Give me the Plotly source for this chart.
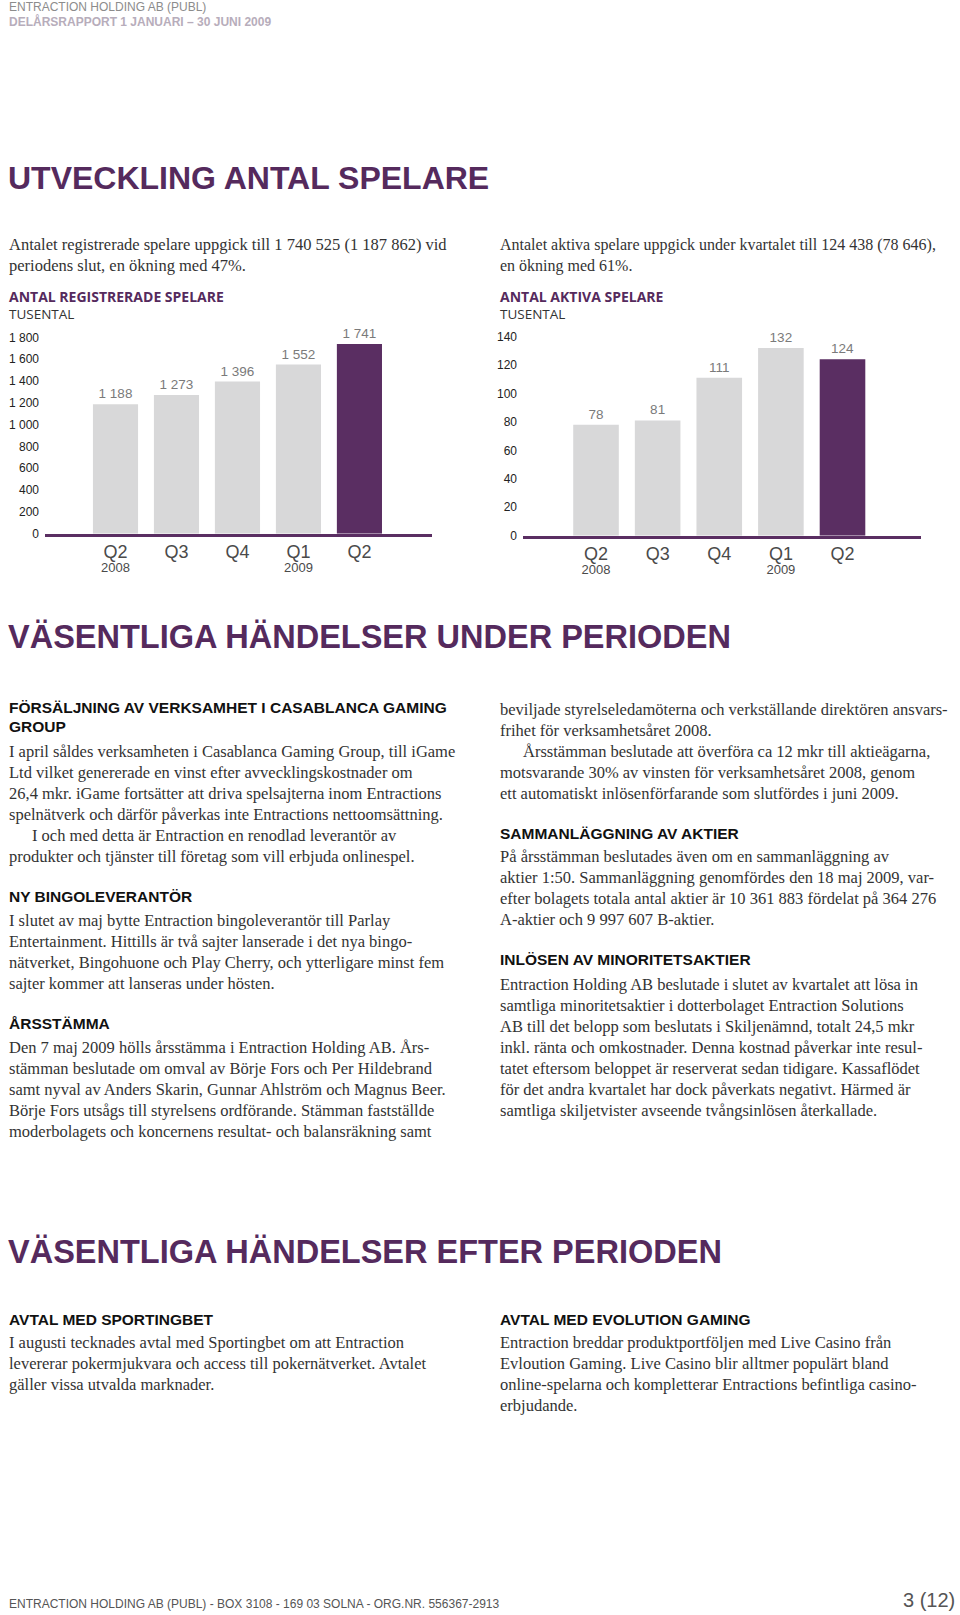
import plotly.graph_objects as go

W, H = 960, 1615

# chart data
quarters = ["Q2 2008", "Q3 2008", "Q4 2008", "Q1 2009", "Q2 2009"]
q_labels = ["Q2", "Q3", "Q4", "Q1", "Q2"]
year_ticks = ["Q2 2008", "Q1 2009"]
year_labels = ["2008", "2009"]
registered = [1188, 1273, 1396, 1552, 1741]
active = [78, 81, 111, 132, 124]
reg_ticks = [0, 200, 400, 600, 800, 1000, 1200, 1400, 1600, 1800]
act_ticks = [0, 20, 40, 60, 80, 100, 120, 140]

PURPLE = "#5a2e62"
TITLE = "#552a5d"
GRAY = "#d8d8d9"
SANS = "Liberation Sans"
SERIF = "Liberation Serif"
BODY = "#333333"

bar_colors = [GRAY] * 4 + [PURPLE]


def note(px, py, text, size, color=BODY, family=SERIF, xanchor="left"):
    # small drift correction so the visual line centres land where they sit in the scan
    py = py + 1 + 0.004 * py
    return dict(xref="paper", yref="paper", x=px / W, y=1 - py / H, text=text,
                showarrow=False, xanchor=xanchor, yanchor="middle", align="left",
                font=dict(size=size, color=color, family=family))


def block(x, y0, lines, step=21, size=16.5):
    out = []
    for i, ln in enumerate(lines):
        dx = 0
        if ln.startswith(">"):
            ln = ln[1:]
            dx = 23
        out.append(note(x + dx, y0 + i * step, ln, size))
    return out


fig = go.Figure()

fig.add_trace(go.Bar(x=quarters, y=registered, marker_color=bar_colors, marker_line_width=0,
                     texttemplate="%{y:,}", textposition="outside", cliponaxis=False,
                     textfont=dict(size=13.5, color="#7a7a7a", family=SANS),
                     xaxis="x", yaxis="y", showlegend=False))
fig.add_trace(go.Bar(x=quarters, y=active, marker_color=bar_colors, marker_line_width=0,
                     texttemplate="%{y:,}", textposition="outside", cliponaxis=False,
                     textfont=dict(size=13.5, color="#7a7a7a", family=SANS),
                     xaxis="x2", yaxis="y2", showlegend=False))
# empty traces so the year axes get drawn
fig.add_trace(go.Scatter(x=[], y=[], xaxis="x3", yaxis="y", showlegend=False))
fig.add_trace(go.Scatter(x=[], y=[], xaxis="x4", yaxis="y2", showlegend=False))

qfont = dict(size=18, color="#4a4a4a", family=SANS)
yfont = dict(size=13, color="#4a4a4a", family=SANS)
tfont = dict(size=12, color="#222222", family=SANS)

xcommon = dict(type="category", categoryarray=quarters, ticks="", showgrid=False,
               zeroline=False, fixedrange=True)

fig.update_layout(
    width=W, height=H,
    margin=dict(l=0, r=0, t=0, b=0),
    paper_bgcolor="white", plot_bgcolor="white",
    separators=", ",
    bargap=0.26,
    xaxis=dict(domain=[45 / W, 432 / W], anchor="y", range=[-1.156, 5.19],
               showline=True, linecolor=PURPLE, linewidth=3,
               tickvals=quarters, ticktext=q_labels, tickfont=qfont,
               ticklabelstandoff=0, **xcommon),
    yaxis=dict(domain=[1 - 536 / H, 1 - 322 / H], anchor="x", range=[0, 1955],
               tickvals=reg_ticks, tickformat=",", ticks="", showgrid=False,
               zeroline=False, showline=False, tickfont=tfont, ticklabelstandoff=5),
    xaxis3=dict(overlaying="x", anchor="y", side="bottom", range=[-1.156, 5.19],
                showline=False, tickvals=year_ticks, ticktext=year_labels, tickfont=yfont,
                ticklabelstandoff=24, **xcommon),
    xaxis2=dict(domain=[523 / W, 921 / W], anchor="y2", range=[-1.185, 5.274],
                showline=True, linecolor=PURPLE, linewidth=3,
                tickvals=quarters, ticktext=q_labels, tickfont=qfont,
                ticklabelstandoff=0, **xcommon),
    yaxis2=dict(domain=[1 - 538 / H, 1 - 322 / H], anchor="x2", range=[0, 151.2],
                tickvals=act_ticks, tickformat=",", ticks="", showgrid=False,
                zeroline=False, showline=False, tickfont=tfont, ticklabelstandoff=5),
    xaxis4=dict(overlaying="x2", anchor="y2", side="bottom", range=[-1.185, 5.274],
                showline=False, tickvals=year_ticks, ticktext=year_labels, tickfont=yfont,
                ticklabelstandoff=24, **xcommon),
)

ann = []
# page header
ann.append(note(7, 6, "ENTRACTION HOLDING AB (PUBL)", 12, "#8c8c8c", SANS))
ann.append(note(7, 21, "<b>DELÅRSRAPPORT 1 JANUARI – 30 JUNI 2009</b>", 12, "#b7adbb", SANS))

# titles
ann.append(note(6, 177, "<b>UTVECKLING ANTAL SPELARE</b>", 32, TITLE, SANS))
ann.append(note(6, 636, "<b>VÄSENTLIGA HÄNDELSER UNDER PERIODEN</b>", 32.5, TITLE, SANS))
ann.append(note(6, 1251, "<b>VÄSENTLIGA HÄNDELSER EFTER PERIODEN</b>", 32.5, TITLE, SANS))

# intro text
ann += block(7, 244, ["Antalet registrerade spelare uppgick till 1 740 525 (1 187 862) vid",
                      "periodens slut, en ökning med 47%."])
ann += block(498, 244, ["Antalet aktiva spelare uppgick under kvartalet till 124 438 (78 646),",
                        "en ökning med 61%."], size=16)

# chart captions
ann.append(note(7, 295.6, "<b>ANTAL REGISTRERADE SPELARE</b>", 14, TITLE, "Open Sans"))
ann.append(note(7, 313, "TUSENTAL", 13.5, "#333333", "Open Sans"))
ann.append(note(498, 295.6, "<b>ANTAL AKTIVA SPELARE</b>", 14, TITLE, "Open Sans"))
ann.append(note(498, 313, "TUSENTAL", 13.5, "#333333", "Open Sans"))


def head(x, y, text):
    return note(x, y, "<b>" + text + "</b>", 15.5, "#111111", SANS)


# left column
ann.append(head(7, 706.6, "FÖRSÄLJNING AV VERKSAMHET I CASABLANCA GAMING"))
ann.append(head(7, 726.2, "GROUP"))
ann += block(7, 751, [
    "I april såldes verksamheten i Casablanca Gaming Group, till iGame",
    "Ltd vilket genererade en vinst efter avvecklingskostnader om",
    "26,4 mkr. iGame fortsätter att driva spelsajterna inom Entractions",
    "spelnätverk och därför påverkas inte Entractions nettoomsättning.",
    ">I och med detta är Entraction en renodlad leverantör av",
    "produkter och tjänster till företag som vill erbjuda onlinespel.",
])
ann.append(head(7, 896, "NY BINGOLEVERANTÖR"))
ann += block(7, 920, [
    "I slutet av maj bytte Entraction bingoleverantör till Parlay",
    "Entertainment. Hittills är två sajter lanserade i det nya bingo-",
    "nätverket, Bingohuone och Play Cherry, och ytterligare minst fem",
    "sajter kommer att lanseras under hösten.",
])
ann.append(head(7, 1023, "ÅRSSTÄMMA"))
ann += block(7, 1046.6, [
    "Den 7 maj 2009 hölls årsstämma i Entraction Holding AB. Års-",
    "stämman beslutade om omval av Börje Fors och Per Hildebrand",
    "samt nyval av Anders Skarin, Gunnar Ahlström och Magnus Beer.",
    "Börje Fors utsågs till styrelsens ordförande. Stämman fastställde",
    "moderbolagets och koncernens resultat- och balansräkning samt",
])

# right column
ann += block(498, 708.7, [
    "beviljade styrelseledamöterna och verkställande direktören ansvars-",
    "frihet för verksamhetsåret 2008.",
    ">Årsstämman beslutade att överföra ca 12 mkr till aktieägarna,",
    "motsvarande 30% av vinsten för verksamhetsåret 2008, genom",
    "ett automatiskt inlösenförfarande som slutfördes i juni 2009.",
])
ann.append(head(498, 832.3, "SAMMANLÄGGNING AV AKTIER"))
ann += block(498, 856, [
    "På årsstämman beslutades även om en sammanläggning av",
    "aktier 1:50. Sammanläggning genomfördes den 18 maj 2009, var-",
    "efter bolagets totala antal aktier är 10 361 883 fördelat på 364 276",
    "A-aktier och 9 997 607 B-aktier.",
])
ann.append(head(498, 959, "INLÖSEN AV MINORITETSAKTIER"))
ann += block(498, 983.7, [
    "Entraction Holding AB beslutade i slutet av kvartalet att lösa in",
    "samtliga minoritetsaktier i dotterbolaget Entraction Solutions",
    "AB till det belopp som beslutats i Skiljenämnd, totalt 24,5 mkr",
    "inkl. ränta och omkostnader. Denna kostnad påverkar inte resul-",
    "tatet eftersom beloppet är reserverat sedan tidigare. Kassaflödet",
    "för det andra kvartalet har dock påverkats negativt. Härmed är",
    "samtliga skiljetvister avseende tvångsinlösen återkallade.",
])

# after the period
ann.append(head(7, 1318.5, "AVTAL MED SPORTINGBET"))
ann += block(7, 1342, [
    "I augusti tecknades avtal med Sportingbet om att Entraction",
    "levererar pokermjukvara och access till pokernätverket. Avtalet",
    "gäller vissa utvalda marknader.",
])
ann.append(head(498, 1318.5, "AVTAL MED EVOLUTION GAMING"))
ann += block(498, 1342, [
    "Entraction breddar produktportföljen med Live Casino från",
    "Evloution Gaming. Live Casino blir alltmer populärt bland",
    "online-spelarna och kompletterar Entractions befintliga casino-",
    "erbjudande.",
])

# footer
ann.append(note(7, 1604, "ENTRACTION HOLDING AB (PUBL) - BOX 3108 - 169 03 SOLNA - ORG.NR. 556367-2913",
                12, "#555555", SANS))
ann.append(note(957, 1600, "3 (12)", 20, "#555555", SANS, xanchor="right"))

fig.update_layout(annotations=ann)

fig.write_html("out.html", config={"displayModeBar": False},
               post_script="document.body.style.margin='0';")
